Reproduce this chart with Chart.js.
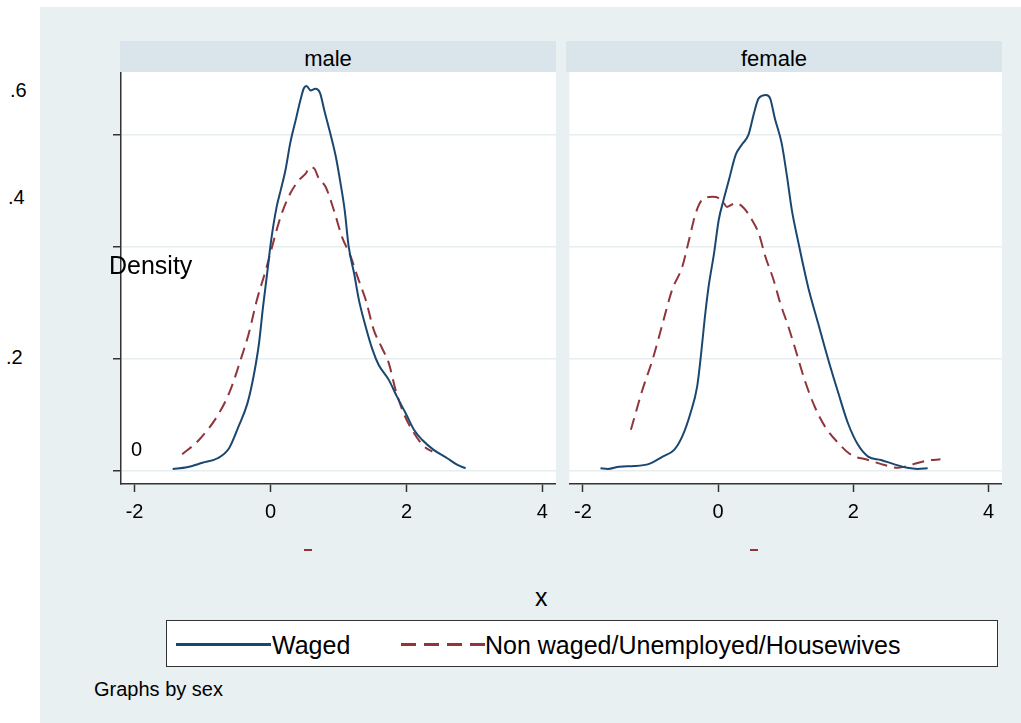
<!DOCTYPE html>
<html>
<head>
<meta charset="utf-8">
<script src="https://cdn.jsdelivr.net/npm/chart.js@4/dist/chart.umd.min.js"></script>
<style>
  body { margin: 0; background: #fff; font-family: "Liberation Sans", Arial, sans-serif; }
  #page { position: relative; width: 1021px; height: 723px; overflow: hidden; }
  .abs { position: absolute; white-space: nowrap; color: #000; }
  .bg { position: absolute; left: 40px; top: 7px; width: 981px; height: 716px; background: #e8f0f2; }
  .strip { position: absolute; top: 41px; height: 29px; padding-top: 2px; background: #d9e5eb;
           font-size: 22px; line-height: 31px; text-align: center; box-sizing: content-box; }
  canvas { position: absolute; }
  .key { position: absolute; height: 2px; }
</style>
</head>
<body>
<div id="page">
  <div class="bg"></div>

  <div class="strip" style="left:120px;width:416px;padding-right:20px;">male</div>
  <div class="strip" style="left:566px;width:416px;padding-right:20px;">female</div>

  <canvas id="malePlot" width="456" height="448" style="left:100px;top:72px;"></canvas>
  <canvas id="femalePlot" width="436" height="448" style="left:566px;top:72px;"></canvas>

  <!-- y labels, where the original put them -->
  <div class="abs" style="left:10px;top:80px;font-size:20px;line-height:20px;">.6</div>
  <div class="abs" style="left:8px;top:187px;font-size:20px;line-height:20px;">.4</div>
  <div class="abs" style="left:6px;top:347px;font-size:20px;line-height:20px;">.2</div>
  <div class="abs" style="left:131px;top:439px;font-size:20px;line-height:20px;">0</div>
  <div class="abs" style="left:109px;top:253px;font-size:25px;line-height:25px;">Density</div>

  <div class="key" style="left:304px;top:549px;width:8px;background:#90353b;"></div>
  <div class="key" style="left:750px;top:549px;width:8px;background:#90353b;"></div>

  <div class="abs" style="left:535px;top:585px;font-size:25px;line-height:25px;">x</div>

  <!-- legend -->
  <div style="position:absolute;left:166px;top:620px;width:830px;height:45px;background:#fff;border:1px solid #333;"></div>
  <div class="key" style="left:176px;top:643px;width:95px;height:3px;background:#1a476f;"></div>
  <div class="abs" style="left:272px;top:633px;font-size:25px;line-height:25px;">Waged</div>
  <div class="key" style="left:401px;top:643px;width:88px;height:3px;background:repeating-linear-gradient(90deg,#90353b 0 15px,transparent 15px 23px);"></div>
  <div class="abs" style="left:485px;top:633px;font-size:25px;line-height:25px;">Non waged/Unemployed/Housewives</div>

  <div class="abs" style="left:94px;top:679px;font-size:20px;line-height:20px;">Graphs by sex</div>
</div>

<script>
// x ticks and y gridline values
const xTicks = [-2, 0, 2, 4];
const yTicks = [0, 0.2, 0.4, 0.6];

// male, waged
const maleWagedX = [-1.44, -1.23, -1.0, -0.78, -0.61, -0.47, -0.34, -0.25, -0.17, -0.11, -0.05, 0.01, 0.09, 0.15, 0.22, 0.29, 0.37, 0.44, 0.49, 0.53, 0.59, 0.66, 0.73, 0.79, 0.88, 0.96, 1.03, 1.09, 1.15, 1.23, 1.30, 1.40, 1.50, 1.59, 1.74, 1.86, 1.99, 2.11, 2.23, 2.40, 2.60, 2.75, 2.87];
const maleWagedY = [0.003, 0.006, 0.014, 0.022, 0.040, 0.079, 0.120, 0.168, 0.227, 0.293, 0.352, 0.412, 0.471, 0.501, 0.537, 0.585, 0.626, 0.662, 0.683, 0.687, 0.679, 0.682, 0.674, 0.644, 0.602, 0.561, 0.513, 0.466, 0.400, 0.352, 0.305, 0.257, 0.216, 0.189, 0.162, 0.132, 0.102, 0.073, 0.055, 0.037, 0.022, 0.010, 0.004];

// male, non waged
const maleNonX = [-1.30, -1.05, -0.76, -0.59, -0.44, -0.32, -0.20, -0.07, 0.05, 0.15, 0.29, 0.42, 0.52, 0.58, 0.64, 0.71, 0.81, 0.93, 1.05, 1.18, 1.28, 1.40, 1.52, 1.64, 1.74, 1.84, 1.96, 2.11, 2.26, 2.38];
const maleNonY = [0.029, 0.055, 0.102, 0.144, 0.198, 0.245, 0.305, 0.358, 0.412, 0.454, 0.495, 0.519, 0.531, 0.542, 0.540, 0.522, 0.507, 0.466, 0.418, 0.382, 0.346, 0.305, 0.251, 0.219, 0.192, 0.144, 0.102, 0.067, 0.043, 0.034];

// female, waged
const femaleWagedX = [-1.74, -1.63, -1.46, -1.24, -1.02, -0.82, -0.65, -0.53, -0.41, -0.31, -0.25, -0.20, -0.14, -0.06, 0.01, 0.08, 0.16, 0.26, 0.35, 0.45, 0.53, 0.60, 0.71, 0.77, 0.84, 0.94, 1.02, 1.09, 1.19, 1.33, 1.48, 1.63, 1.78, 1.92, 2.07, 2.22, 2.41, 2.61, 2.80, 2.95, 3.10];
const femaleWagedY = [0.004, 0.003, 0.007, 0.008, 0.012, 0.025, 0.037, 0.061, 0.102, 0.150, 0.210, 0.269, 0.329, 0.388, 0.448, 0.483, 0.519, 0.564, 0.582, 0.600, 0.638, 0.665, 0.671, 0.665, 0.629, 0.585, 0.525, 0.466, 0.406, 0.329, 0.263, 0.198, 0.138, 0.085, 0.046, 0.025, 0.019, 0.011, 0.005, 0.003, 0.004];

// female, non waged
const femaleNonX = [-1.29, -1.12, -0.97, -0.82, -0.68, -0.53, -0.43, -0.33, -0.24, -0.09, 0.06, 0.13, 0.26, 0.38, 0.50, 0.60, 0.70, 0.82, 0.92, 1.04, 1.16, 1.28, 1.43, 1.58, 1.78, 1.97, 2.22, 2.46, 2.66, 2.85, 3.10, 3.29];
const femaleNonY = [0.073, 0.144, 0.198, 0.263, 0.323, 0.364, 0.412, 0.460, 0.483, 0.489, 0.483, 0.471, 0.478, 0.469, 0.448, 0.424, 0.382, 0.341, 0.299, 0.257, 0.210, 0.162, 0.114, 0.079, 0.049, 0.028, 0.019, 0.010, 0.005, 0.010, 0.018, 0.020];

const navy = '#1a476f';
const maroon = '#90353b';
const axisColor = '#333333';
const gridColor = '#e6eef1';

function pts(xs, ys) {
    return xs.map((x, i) => ({ x: x, y: ys[i] }));
}

// white plot region under the grid
const plotBg = {
    id: 'plotBg',
    beforeDraw(chart) {
        const a = chart.chartArea;
        chart.ctx.save();
        chart.ctx.fillStyle = '#ffffff';
        chart.ctx.fillRect(a.left, a.top, a.right - a.left, a.bottom - a.top);
        chart.ctx.restore();
    }
};

function makePanel(id, wagedX, wagedY, nonX, nonY, showYAxis) {
    new Chart(document.getElementById(id), {
        type: 'line',
        data: {
            datasets: [
                {
                    label: 'Waged',
                    data: pts(wagedX, wagedY),
                    borderColor: navy,
                    borderWidth: 2,
                    pointRadius: 0,
                    cubicInterpolationMode: 'monotone'
                },
                {
                    label: 'Non waged/Unemployed/Housewives',
                    data: pts(nonX, nonY),
                    borderColor: maroon,
                    borderWidth: 2,
                    borderDash: [12, 7],
                    pointRadius: 0,
                    cubicInterpolationMode: 'monotone'
                }
            ]
        },
        options: {
            responsive: false,
            animation: false,
            layout: { padding: 0 },
            plugins: { legend: { display: false }, tooltip: { enabled: false } },
            scales: {
                x: {
                    type: 'linear',
                    position: 'bottom',
                    min: -2.2,
                    max: 4.2,
                    afterBuildTicks: s => { s.ticks = xTicks.map(v => ({ value: v })); },
                    afterFit: s => { s.height = 36; },
                    grid: { drawOnChartArea: false, tickLength: 8, tickColor: axisColor, tickWidth: 1.5 },
                    border: { color: axisColor, width: 1.5 },
                    ticks: {
                        color: '#000',
                        padding: 8,
                        font: { family: '"Liberation Sans", Arial, sans-serif', size: 20 },
                        callback: v => String(v)
                    }
                },
                y: {
                    type: 'linear',
                    min: -0.024,
                    max: 0.712,
                    afterBuildTicks: s => { s.ticks = yTicks.map(v => ({ value: v })); },
                    afterFit: s => { s.width = showYAxis ? 21 : 0; },
                    grid: {
                        color: gridColor,
                        lineWidth: 1.5,
                        drawTicks: showYAxis,
                        tickLength: 8,
                        tickColor: axisColor,
                        tickWidth: 1.5
                    },
                    border: { display: showYAxis, color: axisColor, width: 1.5 },
                    ticks: { display: false }
                }
            }
        },
        plugins: [plotBg]
    });
}

makePanel('malePlot', maleWagedX, maleWagedY, maleNonX, maleNonY, true);
makePanel('femalePlot', femaleWagedX, femaleWagedY, femaleNonX, femaleNonY, false);
</script>
</body>
</html>
